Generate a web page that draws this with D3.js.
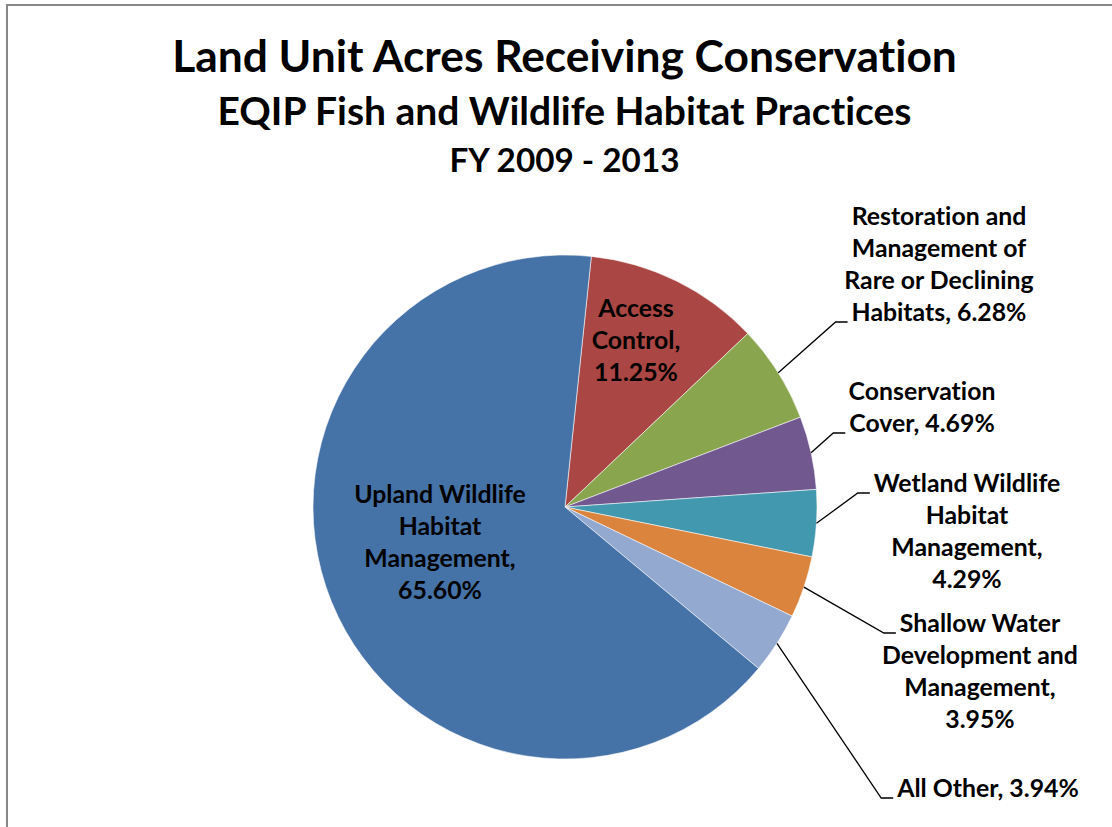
<!DOCTYPE html>
<html>
<head>
<meta charset="utf-8">
<script src="https://cdn.jsdelivr.net/npm/d3@7"></script>
<style>
  body { margin: 0; background: #fff; }
  svg text { font-family: Lato, "Open Sans", sans-serif; font-weight: bold; fill: #000;
             font-variant-ligatures: none; font-feature-settings: "liga" 0, "clig" 0; }
</style>
</head>
<body>
<div id="pie"></div>
<script>
// chart data
var categories = ["Access Control", "Restoration and Management of Rare or Declining Habitats",
  "Conservation Cover", "Wetland Wildlife Habitat Management",
  "Shallow Water Development and Management", "All Other", "Upland Wildlife Habitat Management"];
var shares = [11.25, 6.28, 4.69, 4.29, 3.95, 3.94, 65.60];
var colors = ["#AA4643", "#89A54E", "#71588F", "#4198AF", "#DB843D", "#93A9CF", "#4572A7"];
var titles = ["Land Unit Acres Receiving Conservation", "EQIP Fish and Wildlife Habitat Practices", "FY 2009 - 2013"];

// how many words go on each label line
var wraps = [[1, 1, 1], [2, 2, 3, 2], [1, 2], [2, 1, 1, 1], [2, 2, 1, 1], [3], [2, 1, 1, 1]];

// label layout: centre x, first baseline y, line the leader attaches to (null = inside)
var labelPos = [
  {x: 636, y: 317, lead: null},
  {x: 939, y: 225, lead: 3},
  {x: 922, y: 400, lead: 1},
  {x: 967, y: 492, lead: 0},
  {x: 980, y: 632, lead: 0},
  {x: 988, y: 797, lead: 0},
  {x: 440, y: 503, lead: null}
];

var W = 1112, H = 827,
    cx = 565, cy = 507, radius = 252,
    lineH = 32,
    startDeg = 6;

var svg = d3.select("#pie")
  .append("svg")
    .attr("width", W)
    .attr("height", H);

// chart area border (runs off the right and bottom)
svg.append("rect")
  .attr("x", 7).attr("y", 5)
  .attr("width", W + 20).attr("height", H + 20)
  .attr("fill", "none")
  .attr("stroke", "#888")
  .attr("stroke-width", 2);

// titles, fitted to the widths in the original
var titleSpec = [{y: 72, w: 785}, {y: 125, w: 694}, {y: 172, w: 230}];
titles.forEach(function(t, i) {
  var txt = svg.append("text")
    .attr("x", 564.5).attr("y", titleSpec[i].y)
    .attr("text-anchor", "middle")
    .style("font-size", "40px")
    .text(t);
  var len = txt.node().getComputedTextLength();
  txt.style("font-size", (40 * titleSpec[i].w / len) + "px");
});

var pie = d3.pie()
  .sort(null)
  .value(function(d) { return d; })
  .startAngle(startDeg * Math.PI / 180)
  .endAngle(startDeg * Math.PI / 180 + 2 * Math.PI);

var arc = d3.arc().innerRadius(0).outerRadius(radius);

var g = svg.append("g")
  .attr("transform", "translate(" + cx + "," + cy + ")");

var arcs = pie(shares);

g.selectAll("path")
  .data(arcs)
  .enter()
  .append("path")
    .attr("d", arc)
    .attr("fill", function(d, i) { return colors[i]; })
    .attr("stroke", "#fff")
    .attr("stroke-width", 0.7)
    .attr("stroke-opacity", 0.8);

// labels
function labelText(i) {
  var words = (categories[i] + ", " + shares[i].toFixed(2) + "%").split(" ");
  var lines = [], k = 0;
  wraps[i].forEach(function(n) {
    lines.push(words.slice(k, k + n).join(" "));
    k += n;
  });
  return lines;
}

// size the label font from one reference line
var probe = svg.append("text").style("font-size", "20px").text("Development and");
var labelSize = 20 * 196 / probe.node().getComputedTextLength();
probe.remove();

arcs.forEach(function(d, i) {
  var p = labelPos[i];
  var lines = labelText(i);
  var t = svg.append("text")
    .attr("text-anchor", "middle")
    .style("font-size", labelSize + "px");
  var spans = lines.map(function(s, j) {
    return t.append("tspan")
      .attr("x", p.x)
      .attr("y", p.y + j * lineH)
      .text(s);
  });

  if (p.lead !== null) {
    var mid = (d.startAngle + d.endAngle) / 2;
    var sx = cx + radius * Math.sin(mid),
        sy = cy - radius * Math.cos(mid);
    var lw = spans[p.lead].node().getComputedTextLength();
    var ex = p.x - lw / 2 - 4,
        ey = p.y + p.lead * lineH + 1;
    svg.append("polyline")
      .attr("points", [[sx, sy], [ex - 12, ey], [ex, ey]].join(" "))
      .attr("fill", "none")
      .attr("stroke", "#000")
      .attr("stroke-width", 1.3);
  }
});
</script>
</body>
</html>
